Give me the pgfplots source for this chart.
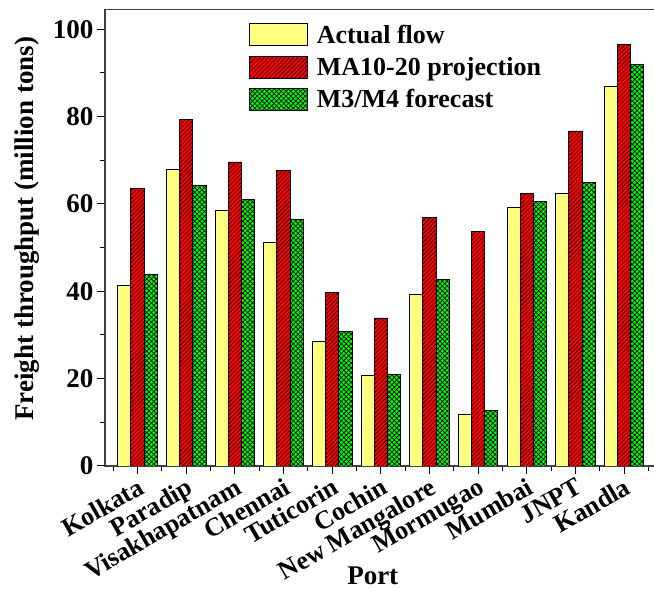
\documentclass[border=0pt]{standalone}
\usepackage{pgfplots}
\pgfplotsset{compat=1.18}
\usepackage{fontspec}
\setmainfont{Liberation Serif}
\usetikzlibrary{patterns,patterns.meta}
\definecolor{barY}{RGB}{255,255,128}
\definecolor{barR}{RGB}{255,0,0}
\definecolor{barG}{RGB}{0,255,0}
\newcommand{\bigfont}{\fontsize{26}{28}\selectfont\bfseries}
\newcommand{\tickfont}{\fontsize{27}{29}\selectfont\bfseries}
\begin{document}
\begin{tikzpicture}
\path[use as bounding box] (-105pt,-123pt) rectangle (549pt,466pt);
\begin{axis}[
  at={(0,0)}, anchor=south west,
  scale only axis, width=555.5pt, height=456.5pt,
  ybar=0pt, bar width=13.2pt,
  xmin=-0.668, xmax=10.75, ymin=0, ymax=104.5,
  xtick={0,...,10},
  xticklabels={Kolkata,Paradip,Visakhapatnam,Chennai,Tuticorin,Cochin,New Mangalore,Mormugao,Mumbai,JNPT,Kandla},
  minor xtick={-0.5,0.5,...,10.5},
  ytick={0,20,...,100}, minor ytick={10,30,...,90},
  tick align=outside, xtick pos=bottom, ytick pos=left,
  major tick length=8pt, minor tick length=5pt,
  every tick/.style={black, line width=1pt},
  axis line style={line width=1.3pt, draw=black!75},
  /pgf/number format/assume math mode=true,
  yticklabel style={font=\tickfont},
  xticklabel style={font=\bigfont, rotate=30, anchor=north east, inner sep=2pt},
  label style={font=\tickfont},
  ylabel={Freight throughput (million tons)},
  ylabel style={at={(axis description cs:-0.141,0.52)}, anchor=center, rotate=0},
  xlabel={Port},
  xlabel style={at={(axis description cs:0.482,-0.241)}, anchor=center},
  legend style={draw=none, fill=none, at={(rel axis cs:0.259,0.97)}, anchor=north west,
    inner sep=0pt, row sep=9.5pt, font=\bigfont, nodes={inner sep=0pt},
    /tikz/every odd column/.append style={column sep=9pt}},
  legend cell align=left,
  legend image code/.code={\draw[#1] (0pt,-11pt) rectangle (58pt,11pt);},
]
\addplot[draw=black, line width=0.8pt, fill=barY] coordinates {
(0,41.3) (1,67.9) (2,58.4) (3,51.1) (4,28.5) (5,20.8) (6,39.3) (7,11.7) (8,59.1) (9,62.3) (10,86.8)};
\addplot[draw=black, line width=0.8pt, fill=barR,
  postaction={pattern={Lines[angle=45,distance=3pt,line width=0.6pt]}}] coordinates {
(0,63.6) (1,79.4) (2,69.6) (3,67.7) (4,39.8) (5,33.9) (6,56.8) (7,53.6) (8,62.4) (9,76.7) (10,96.5)};
\addplot[draw=black, line width=0.8pt, fill=barG,
  postaction={pattern={Hatch[angle=45,distance=3.4pt,line width=0.7pt]}}] coordinates {
(0,43.8) (1,64.3) (2,61.0) (3,56.5) (4,30.7) (5,20.9) (6,42.7) (7,12.8) (8,60.6) (9,64.9) (10,91.9)};
\legend{Actual flow, MA10-20 projection, M3/M4 forecast}
\end{axis}
\end{tikzpicture}
\end{document}
